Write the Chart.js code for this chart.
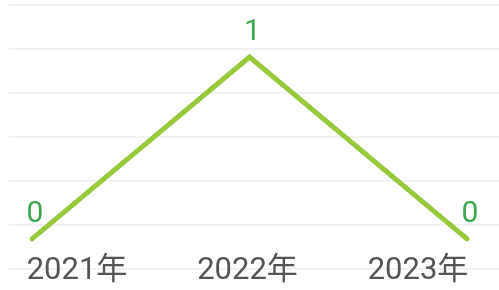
<!DOCTYPE html>
<html>
<head>
<meta charset="utf-8">
<script src="https://cdn.jsdelivr.net/npm/chart.js@4.4.1/dist/chart.umd.min.js"></script>
<style>
html,body{margin:0;padding:0;background:#fff;}
#wrap{width:499px;height:290px;position:relative;}
</style>
</head>
<body>
<div id="wrap"><canvas id="lineChart"></canvas></div>
<script>
const years = ["2021年", "2022年", "2023年"];
const counts = [0, 1, 0];

const FONT = "Roboto, 'Noto Sans CJK SC', sans-serif";

// value labels drawn above each point
const pointValues = {
  id: "pointValues",
  afterDatasetsDraw(chart) {
    const ctx = chart.ctx;
    const meta = chart.getDatasetMeta(0);
    ctx.save();
    ctx.font = "30px " + FONT;
    ctx.fillStyle = "#3da64f";
    ctx.textAlign = "center";
    ctx.textBaseline = "middle";
    meta.data.forEach((pt, i) => {
      ctx.fillText(String(counts[i]), pt.x + 3, pt.y - 24);
    });
    ctx.restore();
  }
};

const yMax = 1.2857;
const yStep = 0.24176;

new Chart(document.getElementById("lineChart"), {
  type: "line",
  data: {
    datasets: [{
      data: counts.map((c, i) => ({ x: i, y: c })),
      xAxisID: "xPts",
      yAxisID: "y",
      borderColor: "#98c93c",
      borderWidth: 5,
      borderCapStyle: "round",
      pointRadius: 0,
      tension: 0,
      fill: false
    }]
  },
  options: {
    responsive: true,
    maintainAspectRatio: false,
    animation: false,
    layout: { padding: { left: 9, right: 0, top: 5, bottom: 0 } },
    plugins: { legend: { display: false }, tooltip: { enabled: false } },
    scales: {
      xPts: { type: "linear", display: false, min: -0.106, max: 2.147 },
      x: {
        type: "linear",
        min: -0.399,
        max: 2.475,
        position: { y: 0 },
        grid: { display: false },
        border: { display: false },
        afterBuildTicks: (s) => { s.ticks = years.map((_, i) => ({ value: i })); },
        ticks: {
          callback: (v) => years[v],
          color: "#555",
          font: { size: 31, family: FONT },
          padding: 6,
          maxRotation: 0,
          autoSkip: false
        }
      },
      y: {
        min: yMax - 6.48 * yStep,
        max: yMax,
        ticks: { display: false },
        grid: { color: "#f2f2f2", lineWidth: 2, drawTicks: false },
        border: { display: false },
        afterBuildTicks: (s) => {
          s.ticks = [];
          for (let i = 0; i < 7; i++) s.ticks.push({ value: yMax - i * yStep });
        }
      }
    }
  },
  plugins: [pointValues]
});
</script>
</body>
</html>
